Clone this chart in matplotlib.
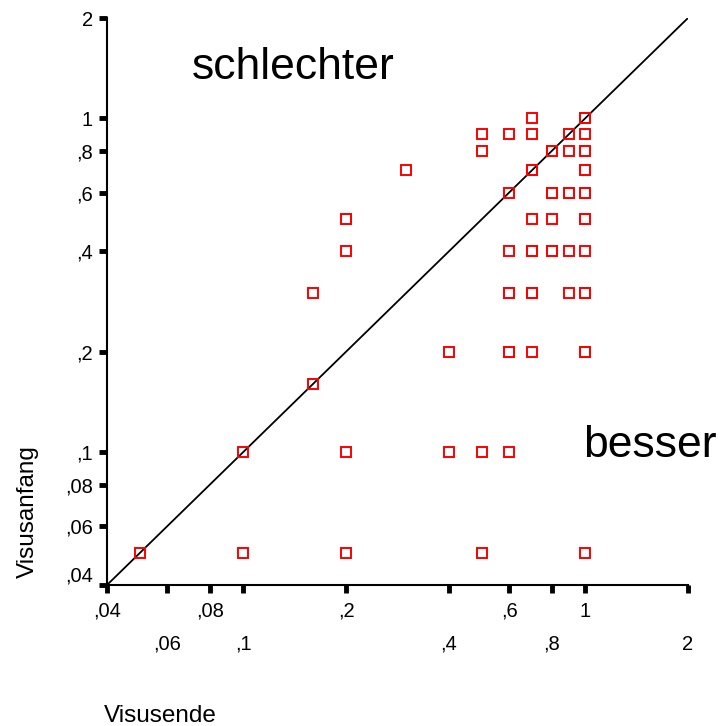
import matplotlib.pyplot as plt
from matplotlib.ticker import FixedLocator, FixedFormatter, NullLocator

plt.rcParams['font.family'] = ['Liberation Sans', 'DejaVu Sans']

# Visus am Ende (x) und am Anfang (y), doppelte Punkte liegen uebereinander
visus_ende = [0.7, 1.0, 1.0,
              0.5, 0.6, 0.7, 0.9, 1.0,
              0.5, 0.8, 0.8, 0.9, 1.0, 1.0,
              0.3, 0.7, 0.7, 1.0, 1.0,
              0.6, 0.8, 0.8, 0.9, 0.9, 1.0, 1.0,
              0.2, 0.2, 0.7, 0.8, 1.0, 1.0,
              0.2, 0.6, 0.7, 0.7, 0.8, 0.8, 0.9, 1.0,
              0.16, 0.6, 0.6, 0.7, 0.7, 0.9, 1.0, 1.0,
              0.4, 0.6, 0.6, 0.7, 1.0, 1.0,
              0.16,
              0.1, 0.2, 0.4, 0.5, 0.6,
              0.05, 0.1, 0.2, 0.5, 1.0]
visus_anfang = [1.0, 1.0, 1.0,
                0.9, 0.9, 0.9, 0.9, 0.9,
                0.8, 0.8, 0.8, 0.8, 0.8, 0.8,
                0.7, 0.7, 0.7, 0.7, 0.7,
                0.6, 0.6, 0.6, 0.6, 0.6, 0.6, 0.6,
                0.5, 0.5, 0.5, 0.5, 0.5, 0.5,
                0.4, 0.4, 0.4, 0.4, 0.4, 0.4, 0.4, 0.4,
                0.3, 0.3, 0.3, 0.3, 0.3, 0.3, 0.3, 0.3,
                0.2, 0.2, 0.2, 0.2, 0.2, 0.2,
                0.16,
                0.1, 0.1, 0.1, 0.1, 0.1,
                0.05, 0.05, 0.05, 0.05, 0.05]

y_ticks = [0.04, 0.06, 0.08, 0.1, 0.2, 0.4, 0.6, 0.8, 1, 2]
y_labels = [',04', ',06', ',08', ',1', ',2', ',4', ',6', ',8', '1', '2']
x_ticks_top = [0.04, 0.08, 0.2, 0.6, 1]
x_labels_top = [',04', ',08', ',2', ',6', '1']
x_ticks_low = [0.06, 0.1, 0.4, 0.8, 2]
x_labels_low = [',06', ',1', ',4', ',8', '2']
lim = (0.04, 2)

fig = plt.figure(figsize=(7.25, 7.26), dpi=100)
ax = fig.add_axes([107/725, 1 - 585/726, 581/725, 567/726])

ax.plot(lim, lim, color='black', lw=1.3)
ax.plot(visus_ende, visus_anfang, ls='none', marker='s', ms=6.5,
        mfc='none', mec='red', mew=1.4)

ax.set_xscale('log')
ax.set_yscale('log')
ax.set_xlim(lim)
ax.set_ylim(lim)

ax.yaxis.set_major_locator(FixedLocator(y_ticks))
ax.yaxis.set_major_formatter(FixedFormatter(y_labels))
ax.yaxis.set_minor_locator(NullLocator())
ax.xaxis.set_major_locator(FixedLocator(x_ticks_top))
ax.xaxis.set_major_formatter(FixedFormatter(x_labels_top))
ax.xaxis.set_minor_locator(FixedLocator(x_ticks_low))
ax.xaxis.set_minor_formatter(FixedFormatter(x_labels_low))

ax.tick_params(axis='both', which='both', direction='out', length=6, width=3.5,
               labelsize=14.5, color='black')
ax.tick_params(axis='y', pad=4)
ax.tick_params(axis='x', which='major', pad=6)
ax.tick_params(axis='x', which='minor', pad=30)

for side in ['top', 'right']:
    ax.spines[side].set_visible(False)
for side in ['left', 'bottom']:
    ax.spines[side].set_linewidth(1.5)

fig.canvas.draw()
ax.get_yticklabels()[0].set_va('bottom')

fig.text(293/725, 1 - 79/726, 'schlechter', fontsize=32, ha='center', va='baseline')
fig.text(650/725, 1 - 457/726, 'besser', fontsize=32, ha='center', va='baseline')
fig.text(160/725, 1 - 722/726, 'Visusende', fontsize=17.5, ha='center', va='baseline')
fig.text(28/725, 1 - 512/726, 'Visusanfang', fontsize=17.5, rotation=90,
         ha='center', va='center')

fig.savefig('out.png', dpi=100)
